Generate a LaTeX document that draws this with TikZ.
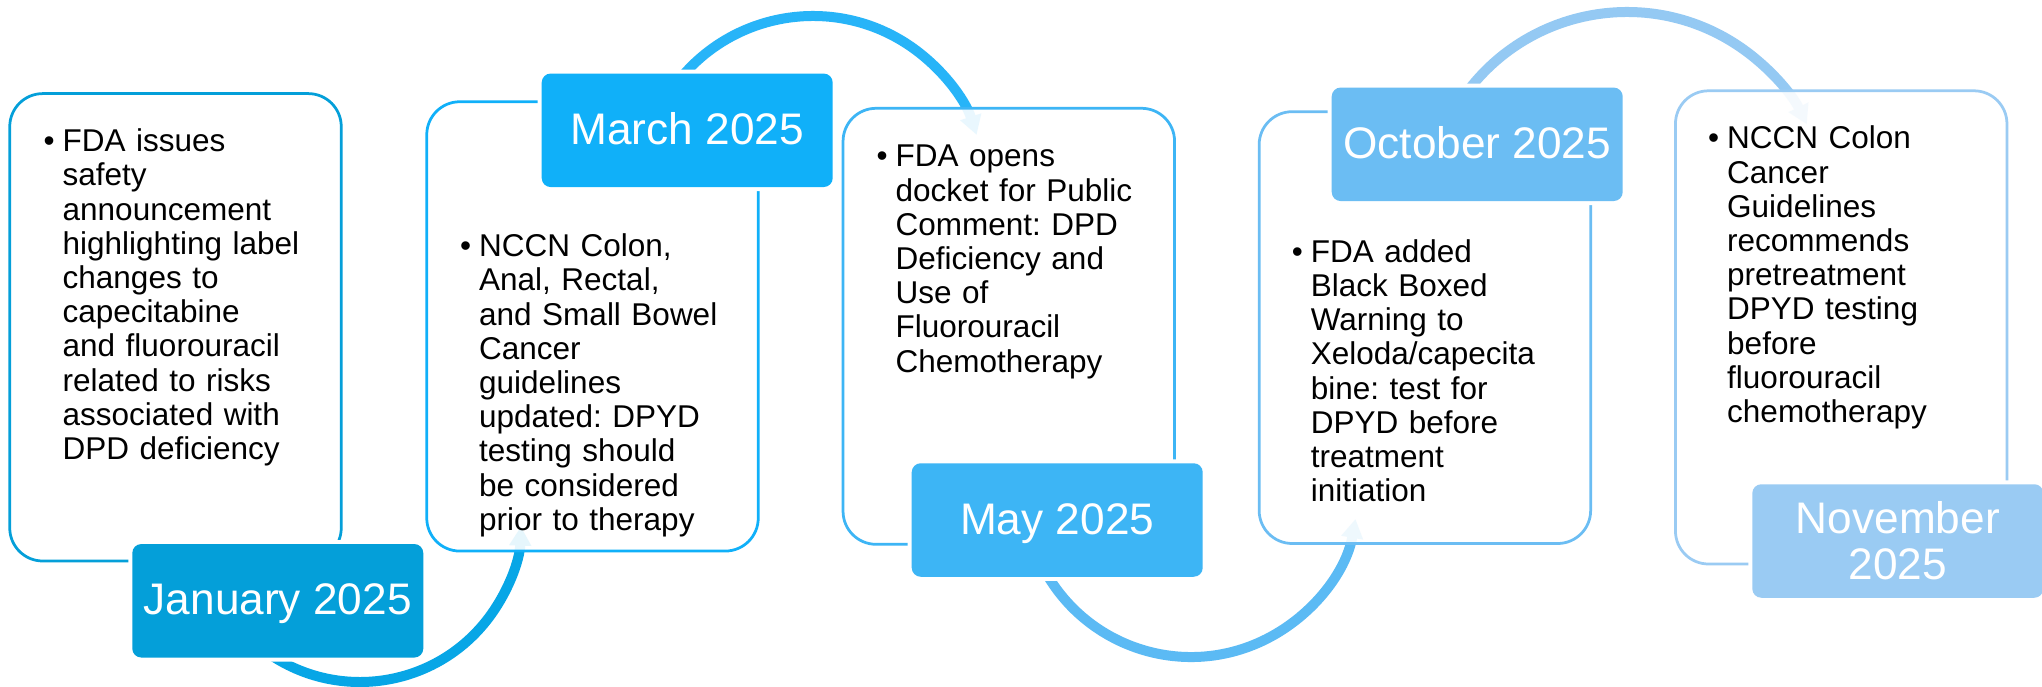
\documentclass[tikz,border=0pt]{standalone}
\usepackage{fontspec}
\setmainfont{Liberation Sans}
\usetikzlibrary{arrows.meta,calc}
\frenchspacing

% palette, darkest to lightest
\definecolor{janC}{HTML}{049FD9}
\definecolor{marC}{HTML}{10B0F9}
\definecolor{mayC}{HTML}{3DB5F5}
\definecolor{octC}{HTML}{6BBDF3}
\definecolor{novC}{HTML}{9ACBF3}
\definecolor{arcA}{HTML}{07A6E6}
\definecolor{arcB}{HTML}{27B4F8}
\definecolor{arcC}{HTML}{5BBAF4}
\definecolor{arcD}{HTML}{94C9F3}

\newcommand{\bodysize}{\fontsize{31.5pt}{34.2pt}\selectfont}
\newcommand{\datesize}{\fontsize{44.2pt}{45.7pt}\selectfont}

\begin{document}
\begin{tikzpicture}[x=1pt,y=-1pt,
  card/.style={draw, line width=2.75pt, fill=white, fill opacity=0.9,
    rounded corners=33pt, minimum width=331.5pt, inner sep=0pt},
  datebox/.style={rounded corners=9pt, minimum width=291pt,
    minimum height=113.5pt, inner sep=0pt, text=white, font=\datesize,
    preaction={draw=white, line width=8pt}},
  datetext/.style={text height=30pt, text depth=2pt},
  bodytext/.style={anchor=base west, inner sep=0pt, text width=280pt,
    align=left, font=\bodysize, text=black},
  bulletmark/.style={anchor=base west, inner sep=0pt, font=\bodysize, text=black},
  flow/.style={line width=10pt, -{Triangle[length=19pt,width=21pt]}},
]
% canvas
\path[use as bounding box, fill=white] (0,0) rectangle (2042,687);

% centres of the connecting arcs
\coordinate (cA) at (360,521);
\coordinate (cB) at (813,188);
\coordinate (cC) at (1191,490);
\coordinate (cD) at (1627,212);

% connecting arcs (drawn first, so the cards veil their tips)
\draw[flow, draw=arcA] ($(cA)+(128:161)$) arc[start angle=128, end angle=2, radius=161];
\draw[flow, draw=arcB] ($(cB)+(-145:172)$) arc[start angle=-145, end angle=-18, radius=172];
\draw[flow, draw=arcC] ($(cC)+(155:167)$) arc[start angle=155, end angle=10, radius=167];
\draw[flow, draw=arcD] ($(cD)+(-145:200)$) arc[start angle=-145, end angle=-26, radius=200];

% text cards
\node[card, draw=janC, minimum height=467.4pt] (c1) at (175.5,327.3) {};
\node[card, draw=marC, minimum height=449.3pt] (c2) at (592.5,326.4) {};
\node[card, draw=mayC, minimum height=436pt]   (c3) at (1008.8,326.3) {};
\node[card, draw=octC, minimum height=431.8pt] (c4) at (1424.9,327.6) {};
\node[card, draw=novC, minimum height=473.2pt] (c5) at (1841.2,327.4) {};

% card texts
\node[bulletmark] (b1) at (43.5,151.7) {•};
\node[bodytext] (t1) at (62.5,151.7) {FDA issues\\ safety\\ announcement\\ highlighting label\\ changes to\\ capecitabine\\ and fluorouracil\\ related to risks\\ associated with\\ DPD deficiency};

\node[bulletmark] (b2) at (460,256.7) {•};
\node[bodytext] (t2) at (479,256.7) {NCCN Colon,\\ Anal, Rectal,\\ and Small Bowel\\ Cancer\\ guidelines\\ updated: DPYD\\ testing should\\ be considered\\ prior to therapy};

\node[bulletmark] (b3) at (876.5,167) {•};
\node[bodytext] (t3) at (895.5,167) {FDA opens\\ docket for Public\\ Comment: DPD\\ Deficiency and\\ Use of\\ Fluorouracil\\ Chemotherapy};

\node[bulletmark] (b4) at (1291.6,262.3) {•};
\node[bodytext] (t4) at (1310.6,262.3) {FDA added\\ Black Boxed\\ Warning to\\ Xeloda/capecita\\ bine: test for\\ DPYD before\\ treatment\\ initiation};

\node[bulletmark] (b5) at (1708,149) {•};
\node[bodytext] (t5) at (1727,149) {NCCN Colon\\ Cancer\\ Guidelines\\ recommends\\ pretreatment\\ DPYD testing\\ before\\ fluorouracil\\ chemotherapy};

% date labels
\node[datebox, datetext, fill=janC] (jan) at (277.8,600.8) {January 2025};
\node[datebox, datetext, fill=marC] (mar) at (687.2,130.3) {March 2025};
\node[datebox, datetext, fill=mayC] (may) at (1057.2,520) {May 2025};
\node[datebox, datetext, fill=octC] (oct) at (1477.2,144.3) {October 2025};
\node[datebox, fill=novC, align=center] (nov) at (1897.8,541) {November\\2025};
\end{tikzpicture}
\end{document}
